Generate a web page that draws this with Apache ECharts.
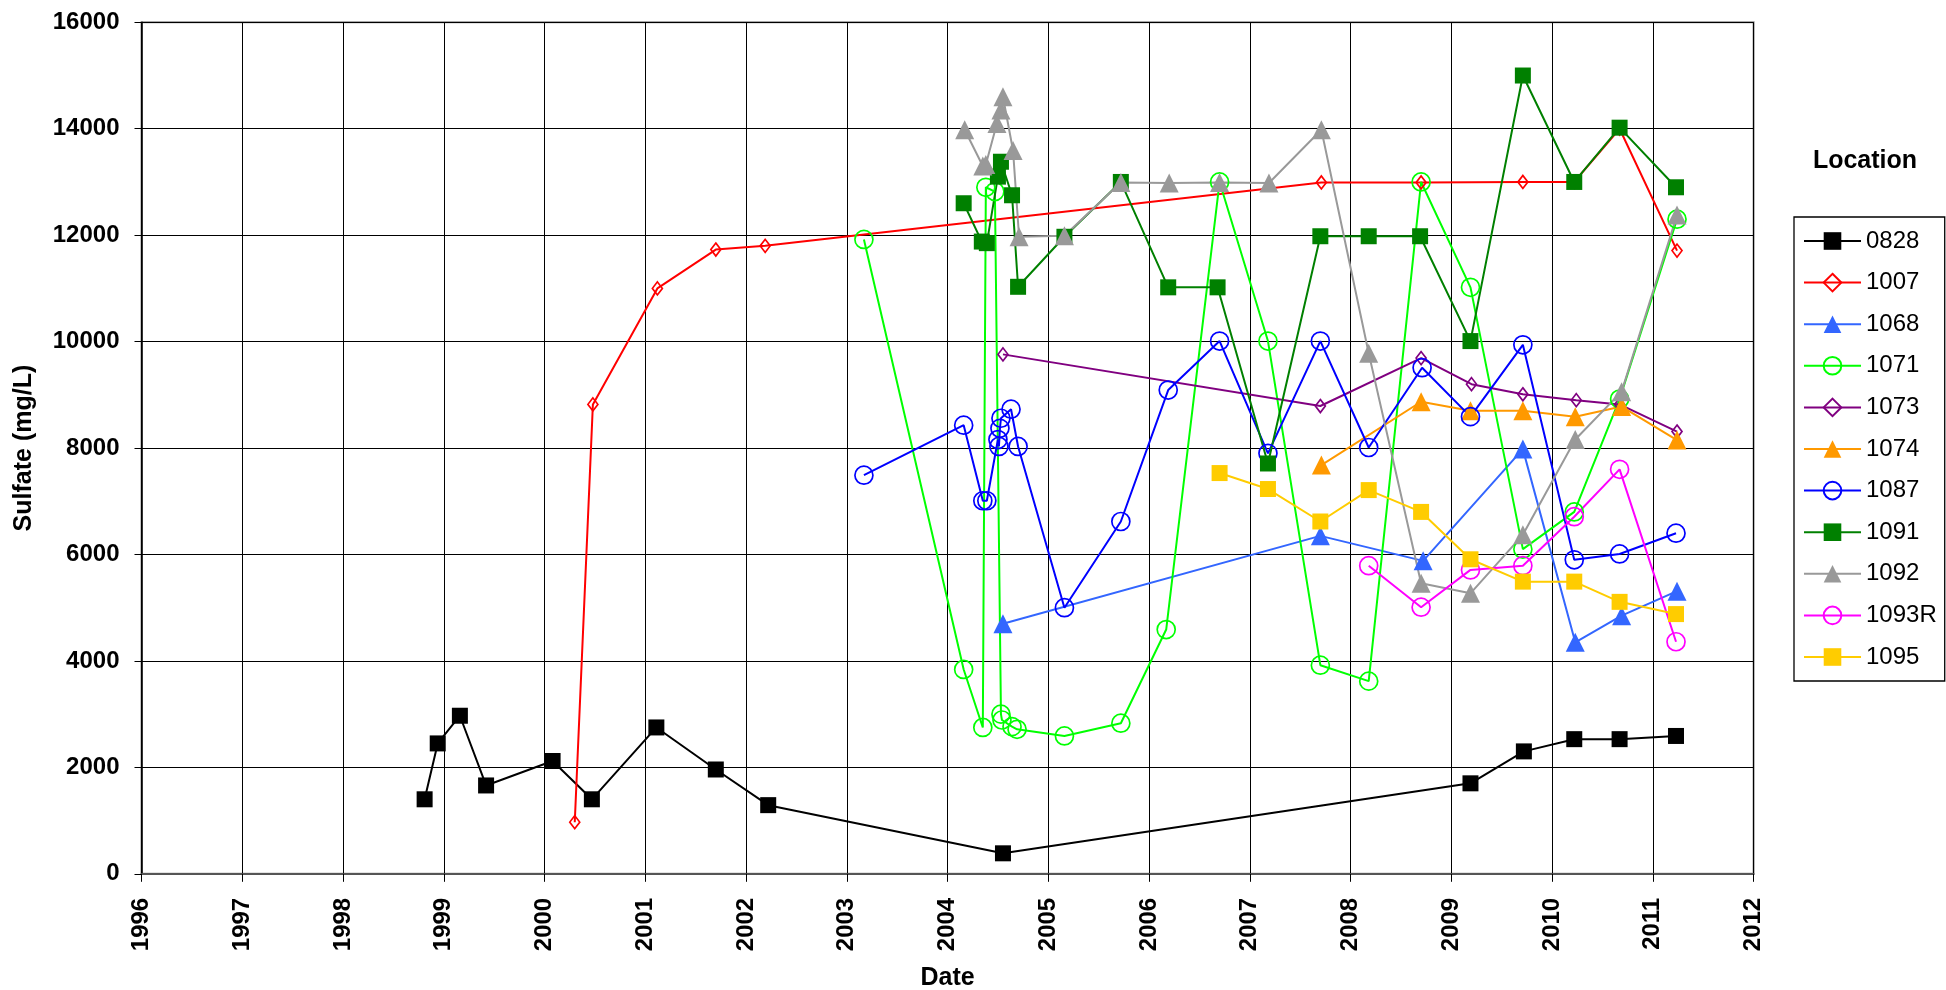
<!DOCTYPE html>
<html>
<head>
<meta charset="utf-8">
<script src="https://cdn.jsdelivr.net/npm/echarts@6/dist/echarts.min.js"></script>
<style>
html,body{margin:0;padding:0;background:#fff;}
#chart{width:1946px;height:990px;}
</style>
</head>
<body>
<div id="chart"></div>
<script>
// Data: [decimal year, sulfate mg/L]
const locations = ['0828','1007','1068','1071','1073','1074','1087','1091','1092','1093R','1095'];
const yTicks = [0,2000,4000,6000,8000,10000,12000,14000,16000];
const xYears = [1996,1997,1998,1999,2000,2001,2002,2003,2004,2005,2006,2007,2008,2009,2010,2011,2012];

const d0828 = [[1998.81,1400],[1998.94,2450],[1999.16,2970],[1999.42,1660],[2000.08,2120],[2000.47,1400],[2001.11,2750],[2001.70,1960],[2002.22,1290],[2004.55,385],[2009.19,1700],[2009.72,2300],[2010.22,2530],[2010.67,2530],[2011.23,2590]];
const d1007 = [[2000.30,970],[2000.48,8820],[2001.12,11000],[2001.70,11730],[2002.19,11800],[2007.71,12990],[2008.70,12990],[2009.71,13000],[2010.22,13000],[2010.67,14000],[2011.24,11710]];
const d1068 = [[2004.55,4700],[2007.70,6350],[2008.72,5880],[2009.71,7980],[2010.23,4350],[2010.69,4850],[2011.24,5310]];
const d1071 = [[2003.17,11920],[2004.16,3840],[2004.35,2750],[2004.38,12900],[2004.47,12820],[2004.53,3000],[2004.54,2890],[2004.64,2765],[2004.69,2715],[2005.16,2590],[2005.72,2830],[2006.17,4590],[2006.70,13000],[2007.18,10010],[2007.70,3920],[2008.18,3620],[2008.70,13000],[2009.19,11020],[2009.71,6100],[2010.22,6800],[2010.67,8920],[2011.24,12300]];
const d1073 = [[2004.55,9760],[2007.70,8790],[2008.70,9690],[2009.20,9200],[2009.71,9010],[2010.24,8900],[2010.67,8820],[2011.24,8310]];
const d1074 = [[2007.71,7680],[2008.70,8870],[2009.19,8700],[2009.71,8700],[2010.23,8590],[2010.69,8780],[2011.24,8150]];
const d1087 = [[2003.17,7490],[2004.16,8430],[2004.35,7010],[2004.39,7010],[2004.50,8160],[2004.51,8030],[2004.52,8370],[2004.53,8560],[2004.63,8730],[2004.70,8030],[2005.16,5000],[2005.72,6620],[2006.19,9090],[2006.70,10010],[2007.18,7900],[2007.70,10010],[2008.18,8010],[2008.71,9510],[2009.19,8590],[2009.71,9940],[2010.22,5900],[2010.67,6010],[2011.23,6400]];
const d1091 = [[2004.16,12600],[2004.34,11880],[2004.39,11850],[2004.50,13100],[2004.53,13380],[2004.64,12750],[2004.70,11030],[2005.16,11970],[2005.72,13000],[2006.19,11020],[2006.68,11020],[2007.18,7710],[2007.70,11980],[2008.18,11980],[2008.69,11980],[2009.19,10010],[2009.71,15000],[2010.22,13000],[2010.67,14020],[2011.23,12900]];
const d1092 = [[2004.17,13980],[2004.35,13300],[2004.38,13330],[2004.49,14100],[2004.53,14350],[2004.55,14600],[2004.65,13590],[2004.71,11970],[2005.16,11990],[2005.72,12990],[2006.20,12980],[2006.70,12990],[2007.19,12980],[2007.71,13980],[2008.18,9780],[2008.70,5460],[2009.19,5270],[2009.71,6370],[2010.23,8160],[2010.69,9060],[2011.24,12380]];
const d1093R = [[2008.18,5790],[2008.70,5010],[2009.19,5710],[2009.71,5790],[2010.22,6710],[2010.67,7600],[2011.23,4360]];
const d1095 = [[2006.70,7530],[2007.18,7230],[2007.70,6620],[2008.18,7210],[2008.70,6800],[2009.19,5910],[2009.71,5490],[2010.22,5490],[2010.67,5110],[2011.23,4880]];

const seriesData = [d0828,d1007,d1068,d1071,d1073,d1074,d1087,d1091,d1092,d1093R,d1095];
const colors = ['#000000','#FF0000','#3366FF','#00FF00','#800080','#FF9900','#0000FF','#008000','#999999','#FF00FF','#FFCC00'];
const symbols = ['rect','diamond','triangle','circle','diamond','triangle','circle','rect','triangle','circle','rect'];
const hollow = [false,true,false,true,true,false,true,false,false,true,false];
const sizes = [16,[10,13],19,18,[10,13],19,18,16,19,18,16];

const FONT = '"Liberation Sans", Arial, sans-serif';

const series = locations.map((name,i)=>({
  name: name,
  type: 'line',
  data: seriesData[i],
  symbol: symbols[i],
  symbolSize: sizes[i],
  showAllSymbol: true,
  lineStyle: {color: colors[i], width: 2},
  itemStyle: hollow[i]
    ? {color: 'rgba(255,255,255,0)', borderColor: colors[i], borderWidth: 1.7}
    : {color: colors[i], borderColor: colors[i], borderWidth: 0},
  emphasis: {disabled: true},
  animation: false
}));

const chart = echarts.init(document.getElementById('chart'), null, {renderer: 'canvas'});
chart.setOption({
  backgroundColor: '#ffffff',
  animation: false,
  color: colors,
  title: {
    text: 'Location',
    left: 1860, top: 144,
    textAlign: 'center',
    textStyle: {fontFamily: FONT, fontSize: 25, fontWeight: 'bold', color: '#000'}
  },
  legend: {
    orient: 'vertical',
    left: 1794, top: 217,
    padding: [12, 8, 12, 9],
    itemWidth: 57, itemHeight: 22, itemGap: 17.6,
    borderColor: '#000', borderWidth: 1.3,
    backgroundColor: '#fff',
    textStyle: {fontFamily: FONT, fontSize: 24, color: '#000'},
    data: locations
  },
  grid: {
    left: 141.5, right: 192.4, top: 22.3, bottom: 116.2,
    outerBoundsMode: 'none', containLabel: false,
    show: true, borderColor: '#8c8c8c', borderWidth: 2, backgroundColor: '#fff'
  },
  xAxis: {
    type: 'value', min: xYears[0], max: xYears[xYears.length-1], interval: 1,
    name: 'Date', nameLocation: 'middle', nameGap: 92,
    nameTextStyle: {fontFamily: FONT, fontSize: 25, fontWeight: 'bold', color: '#000'},
    axisLine: {show: true, lineStyle: {color: '#555', width: 2}},
    axisTick: {show: true, length: 8, lineStyle: {color: '#000', width: 1}},
    axisLabel: {rotate: 90, margin: 24, fontFamily: FONT, fontSize: 24, fontWeight: 'bold', color: '#000',
      showMinLabel: true, showMaxLabel: true, formatter: v => String(v)},
    splitLine: {show: true, lineStyle: {color: '#000', width: 1}}
  },
  yAxis: {
    type: 'value', min: yTicks[0], max: yTicks[yTicks.length-1], interval: 2000,
    name: 'Sulfate (mg/L)', nameLocation: 'middle', nameGap: 105,
    nameTextStyle: {fontFamily: FONT, fontSize: 25, fontWeight: 'bold', color: '#000'},
    axisLine: {show: true, lineStyle: {color: '#000', width: 1.5}},
    axisTick: {show: true, length: 7, lineStyle: {color: '#000', width: 1}},
    axisLabel: {margin: 22, fontFamily: FONT, fontSize: 24, fontWeight: 'bold', color: '#000',
      formatter: v => String(v)},
    splitLine: {show: true, lineStyle: {color: '#000', width: 1}}
  },
  series: series
});
</script>
</body>
</html>
